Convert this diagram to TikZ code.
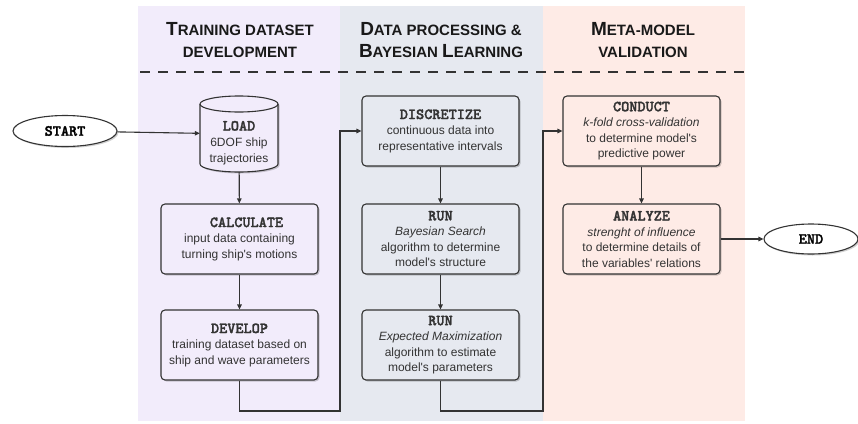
\documentclass[tikz,border=0pt]{standalone}
\usepackage{fontspec}
\setmainfont{Liberation Sans}
\newfontfamily\monob{lmmonolt10-bold.otf}[FakeBold=1.8]
\usetikzlibrary{arrows.meta,shadows,shapes.geometric}
\definecolor{purp}{HTML}{F2ECFB}
\definecolor{grayp}{HTML}{E6E9F0}
\definecolor{pinkp}{HTML}{FEEBE6}
\definecolor{ink}{HTML}{333333}
\newcommand\boxtitle[1]{{\fontsize{15.5}{15.5}\selectfont\monob #1}}
\newcommand\hdbig[1]{{\fontsize{19}{22}\selectfont #1}}
\newcommand\sq{\textquotesingle}
\begin{document}
\begin{tikzpicture}[x=1pt,y=-1pt,
  shad/.style={drop shadow={shadow xshift=1.5pt,shadow yshift=-1.5pt,fill=black,opacity=0.18}},
  stepbox/.style={draw=ink, line width=1.1pt, rounded corners=4pt, minimum width=157pt,
    minimum height=70pt, align=center, inner sep=0pt, text=ink,
    font=\fontsize{12}{15.5}\selectfont, shad},
  term/.style={ellipse, draw=ink, line width=1.1pt, fill=white, inner sep=0pt, text=black, shad},
  conn/.style={draw=ink, line width=1.1pt, -{Triangle[length=5pt,width=4.5pt]}},
  hdr/.style={anchor=base, text=black!90, font=\bfseries\fontsize{15}{22}\selectfont, inner sep=0pt},
]
\useasboundingbox (0,0) rectangle (858,423);
% panels
\fill[purp] (138,6) rectangle (340,421);
\fill[grayp] (340,6) rectangle (543,421);
\fill[pinkp] (543,6) rectangle (745,421);
% headers
\node[hdr] (h1a) at (240,35) {\hdbig{T}RAINING DATASET};
\node[hdr] (h1b) at (240,57) {DEVELOPMENT};
\node[hdr] (h2a) at (441,35) {\hdbig{D}ATA PROCESSING \&};
\node[hdr] (h2b) at (441,57) {\hdbig{B}AYESIAN \hdbig{L}EARNING};
\node[hdr] (h3a) at (643,35) {\hdbig{M}ETA-MODEL};
\node[hdr] (h3b) at (643,57) {VALIDATION};
\draw[ink, line width=1.2pt, dash pattern=on 10pt off 8pt] (140,72) -- (745,72);
% terminals
\node[term, minimum width=104pt, minimum height=31pt] (start) at (65,131) {\boxtitle{START}};
\node[term, minimum width=94pt, minimum height=30pt] (end) at (811,239) {\boxtitle{END}};
% cylinder
\node[minimum width=78pt, minimum height=76pt, inner sep=0pt] (load) at (239,134) {};
\fill[purp, shad] (200,104) -- (200,164) arc[start angle=180, end angle=0, x radius=39, y radius=8]
  -- (278,104) arc[start angle=0, end angle=-180, x radius=39, y radius=8] -- cycle;
\draw[ink, line width=1.1pt] (200,104) -- (200,164) arc[start angle=180, end angle=0, x radius=39, y radius=8] -- (278,104);
\draw[ink, line width=1.1pt] (239,104) ellipse[x radius=39, y radius=8];
\node[align=center, inner sep=0pt, text=ink, font=\fontsize{12}{16}\selectfont] (loadtext) at (239,143)
  {\boxtitle{LOAD}\\6DOF ship\\trajectories};
% boxes
\node[stepbox, fill=purp] (calc) at (239.5,239) {\boxtitle{\hspace*{14pt}CALCULATE}\\input data containing\\turning ship\sq s motions};
\node[stepbox, fill=purp] (dev) at (239.5,345) {\boxtitle{DEVELOP}\\training dataset based on\\ship and wave parameters};
\node[stepbox, fill=grayp] (disc) at (440.5,131) {\boxtitle{DISCRETIZE}\\continuous data into\\representative intervals};
\node[stepbox, fill=grayp] (run1) at (440.5,239) {\boxtitle{RUN}\\\textit{Bayesian Search}\\algorithm to determine\\model\sq s structure};
\node[stepbox, fill=grayp] (run2) at (440.5,345) {\boxtitle{RUN}\\\textit{Expected Maximization}\\algorithm to estimate\\model\sq s parameters};
\node[stepbox, fill=pinkp] (conduct) at (641.5,131) {\boxtitle{CONDUCT}\\\textit{k-fold cross-validation}\\to determine model\sq s\\predictive power};
\node[stepbox, fill=pinkp] (analyze) at (641.5,239) {\boxtitle{ANALYZE}\\\textit{strenght of influence}\\to determine details of\\the variables\sq\ relations};
% connectors
\coordinate (c1) at (340,411);
\coordinate (c2) at (543,411);
\draw[conn] (start) -- (load);
\draw[conn] (load) -- (calc);
\draw[conn] (calc) -- (dev);
\draw[conn] (dev.south) |- (c1) |- (disc.west);
\draw[conn] (disc) -- (run1);
\draw[conn] (run1) -- (run2);
\draw[conn] (run2.south) |- (c2) |- (conduct.west);
\draw[conn] (conduct) -- (analyze);
\draw[conn] (analyze) -- (end);
\end{tikzpicture}
\end{document}
